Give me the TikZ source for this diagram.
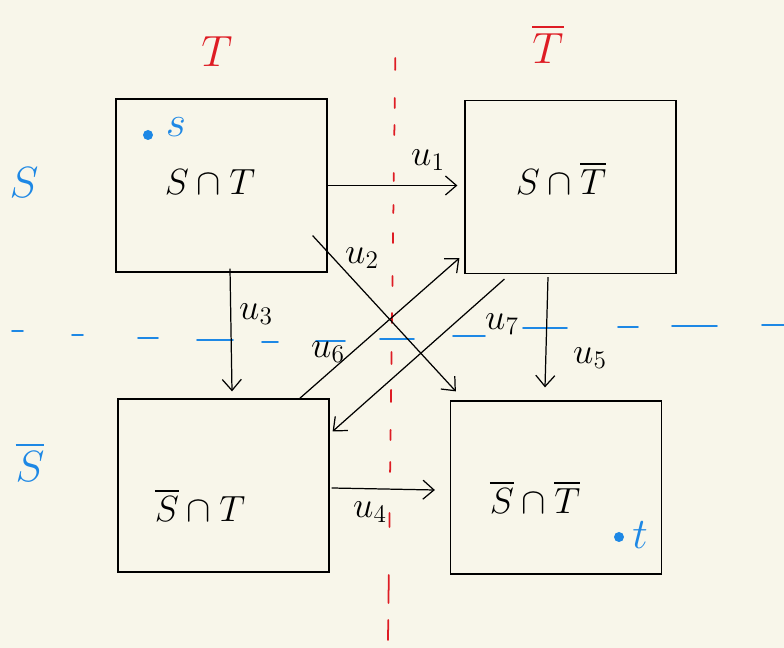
\documentclass[tikz,border=0pt]{standalone}
\usepackage{amsmath,amssymb,xcolor}
\definecolor{bgcream}{RGB}{248,246,234}
\definecolor{cutred}{RGB}{222,28,36}
\definecolor{cutblue}{RGB}{30,136,229}
\usetikzlibrary{arrows.meta,positioning,calc}

\begin{document}
\begin{tikzpicture}[
  x=0.2mm, y=-0.2mm,
  every node/.style={font=\fontsize{22}{26}\selectfont},
  region/.style={draw,line width=0.7pt,minimum width=42.2mm,minimum height=34.6mm,inner sep=0pt},
  flow/.style={line width=0.7pt,-{Straight Barb[length=2.2mm,width=3.8mm]}},
  caplbl/.style={font=\huge},
  cutlbl/.style={font=\Huge},
  cutdash/.style={line width=1pt,line cap=round},
  endpt/.style={circle,fill=cutblue,inner sep=0pt,minimum size=2mm},
]
  % canvas
  \fill[bgcream] (0,0) rectangle (784,648);
  \useasboundingbox (0,0) rectangle (784,648);
  % cut T (red, vertical)
  \foreach \a/\b in {58/70,98/108,125/135,173/181,205/213,233/243,276/286,313/323,
                     352/364,390/402,430/440,462/472,513/527,575/603,620/640}
    \draw[cutdash,cutred] ({396-\a/80},\a) -- ({396-\b/80},\b);
  % cut S (blue, horizontal)
  \foreach \a/\b/\y in {12/23/331,72/83/335,138/158/338,197/233/340,262/278/342,316/345/341,
                        380/414/339,453/485/336,523/567/328,618/638/327,672/717/326,762/784/325}
    \draw[cutdash,cutblue] (\a,\y) -- (\b,\y);
  % side labels
  \node[cutlbl,text=cutred] (tlbl) at (217,52) {$T$};
  \node[cutlbl,text=cutred] (tblbl) at (548,44) {$\overline{T}$};
  \node[cutlbl,text=cutblue] (slbl) at (24,183) {$S$};
  \node[cutlbl,text=cutblue] (sblbl) at (30,462) {$\overline{S}$};
  % regions
  \node[region] (st) at (221.5,185.5) {};
  \node[region] (stb) at (570.5,187) {};
  \node[region] (sbt) at (223.5,485.5) {};
  \node[region] (sbtb) at (556,487.5) {};
  \node (st-txt) at (210,182) {$S\cap T$};
  \node (stb-txt) at (561,178) {$S\cap\overline{T}$};
  \node (sbt-txt) at (200,505) {$\overline{S}\cap T$};
  \node (sbtb-txt) at (535,497) {$\overline{S}\cap\overline{T}$};
  % source and sink
  \node[endpt] (sdot) at (148,135) {};
  \node[text=cutblue,font=\Huge] (slab) at (176,127) {$s$};
  \node[endpt] (tdot) at (619,537) {};
  \node[text=cutblue,font=\Huge] (tlab) at (640,535) {$t$};
  % edges
  \draw[flow,shorten >=1.4mm] (st.east) -- (st.east -| stb.west);
  \draw[flow] ([shift={(-3mm,7.4mm)}]st.south east) -- ([shift={(1.2mm,1.8mm)}]sbtb.north west);
  \draw[flow] ([shift={(1.7mm,0.8mm)}]st.south) -- ([shift={(1.7mm,1.4mm)}]sbt.north);
  \draw[flow] ([shift={(0.4mm,-0.5mm)}]sbt.east) -- ([shift={(-3mm,-0.5mm)}]sbtb.west);
  \draw[flow] ([shift={(-4.5mm,-0.6mm)}]stb.south) -- ([shift={(-2.2mm,2.6mm)}]sbtb.north);
  \draw[flow] ([shift={(-6.2mm,-0.2mm)}]sbt.north east) -- ([shift={(-1mm,3.2mm)}]stb.south west);
  \draw[flow] ([shift={(8mm,-1mm)}]stb.south west) -- ([shift={(0.6mm,-6.6mm)}]sbt.north east);
  % capacities
  \node[caplbl] (u1) at (428,160) {$u_1$};
  \node[caplbl] (u2) at (362,258) {$u_2$};
  \node[caplbl] (u3) at (256,314) {$u_3$};
  \node[caplbl] (u4) at (370,512) {$u_4$};
  \node[caplbl] (u5) at (590,358) {$u_5$};
  \node[caplbl] (u6) at (328,352) {$u_6$};
  \node[caplbl] (u7) at (502,324) {$u_7$};
\end{tikzpicture}
\end{document}
